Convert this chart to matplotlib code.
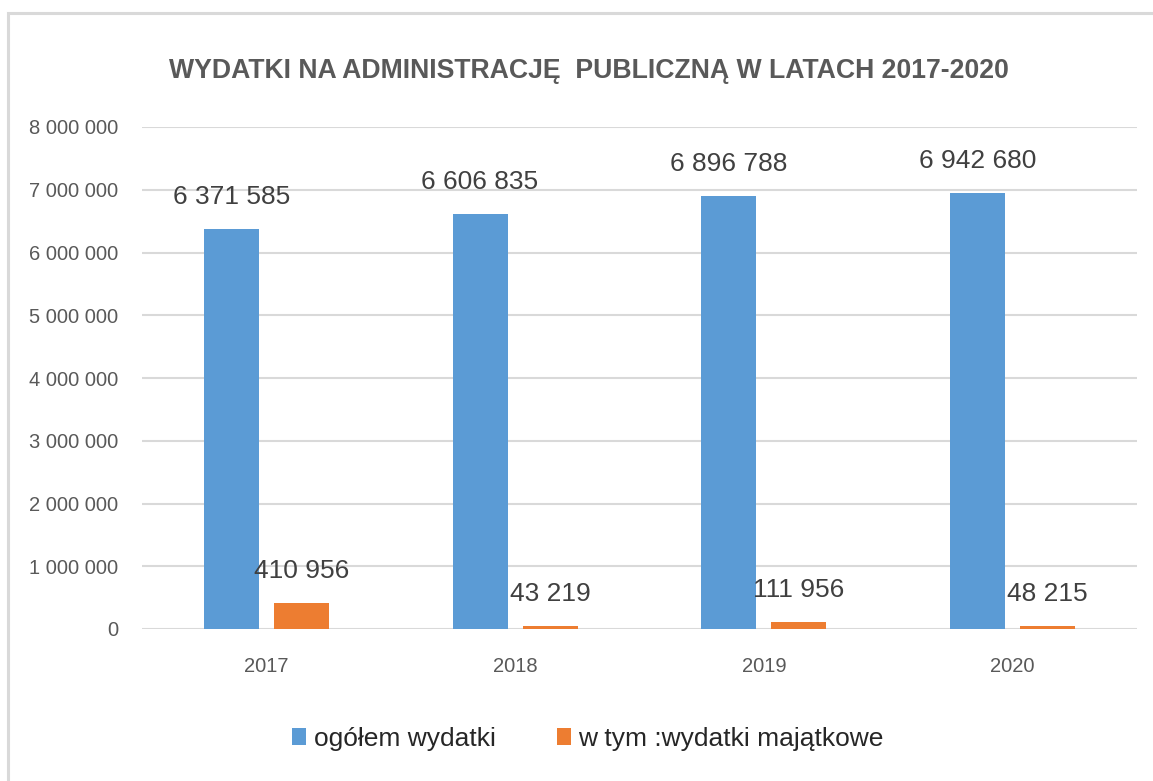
import numpy as np
import matplotlib.pyplot as plt
from matplotlib.patches import Rectangle
from matplotlib.ticker import FuncFormatter

# data
years = ["2017", "2018", "2019", "2020"]
ogolem = [6371585, 6606835, 6896788, 6942680]
majatkowe = [410956, 43219, 111956, 48215]
series_names = ["ogółem wydatki", "w tym :wydatki majątkowe"]

blue = "#5B9BD5"
orange = "#ED7D31"
grid_col = "#D9D9D9"
tick_col = "#595959"
label_col = "#404040"

plt.rcParams['font.family'] = ['Liberation Sans', 'DejaVu Sans']

fig = plt.figure(figsize=(11.53, 7.81), dpi=100)
ax = fig.add_axes([142/1153, 1 - 629/781, (1137 - 142)/1153, (629 - 127)/781])

x = np.arange(len(years))
w = 0.221
off = 0.141

b1 = ax.bar(x - off, ogolem, w, color=blue, label=series_names[0], zorder=3)
b2 = ax.bar(x + off, majatkowe, w, color=orange, label=series_names[1], zorder=3)

def fmt(v, pos=None):
    return f"{int(v):,}".replace(",", " ")

# value labels above the bars
for bars, vals in [(b1, ogolem), (b2, majatkowe)]:
    for r, v in zip(bars, vals):
        ax.annotate(fmt(v), (r.get_x() + r.get_width()/2, v),
                    xytext=(0, 18), textcoords="offset points",
                    ha="center", va="baseline", fontsize=19, color=label_col,
                    zorder=4)

ax.set_xlim(-0.5, len(years) - 0.5)
ax.set_ylim(0, 8000000)
ax.set_yticks(np.arange(0, 8000001, 1000000))
ax.yaxis.set_major_formatter(FuncFormatter(fmt))
ax.set_xticks(x)
ax.set_xticklabels(years)

ax.grid(axis="y", color=grid_col, linewidth=1.5, zorder=0)
ax.set_axisbelow(True)
for s in ax.spines.values():
    s.set_visible(False)
ax.tick_params(axis="y", length=0, pad=17, labelsize=14.5, labelcolor=tick_col)
ax.tick_params(axis="x", length=0, pad=20, labelsize=14.5, labelcolor=tick_col)

# title
fig.text(589/1153, 1 - 78/781, "WYDATKI NA ADMINISTRACJĘ  PUBLICZNĄ W LATACH 2017-2020",
         ha="center", va="baseline", fontsize=19.2, fontweight="bold", color=tick_col)

# legend
fig.legend(handles=[b1, b2], loc="center", bbox_to_anchor=(588/1153, 1 - 739/781),
           ncol=2, frameon=False, fontsize=19, handlelength=0.53, handleheight=0.6,
           handletextpad=0.3, columnspacing=2.3, labelcolor="#262626")

# outer chart frame (only top and left edge visible)
fig.add_artist(Rectangle((8/1153, -0.1), 1.1, 1.1 - 13/781, transform=fig.transFigure,
                         fill=False, edgecolor=grid_col, linewidth=2.2))

fig.savefig("out.png", dpi=100)
